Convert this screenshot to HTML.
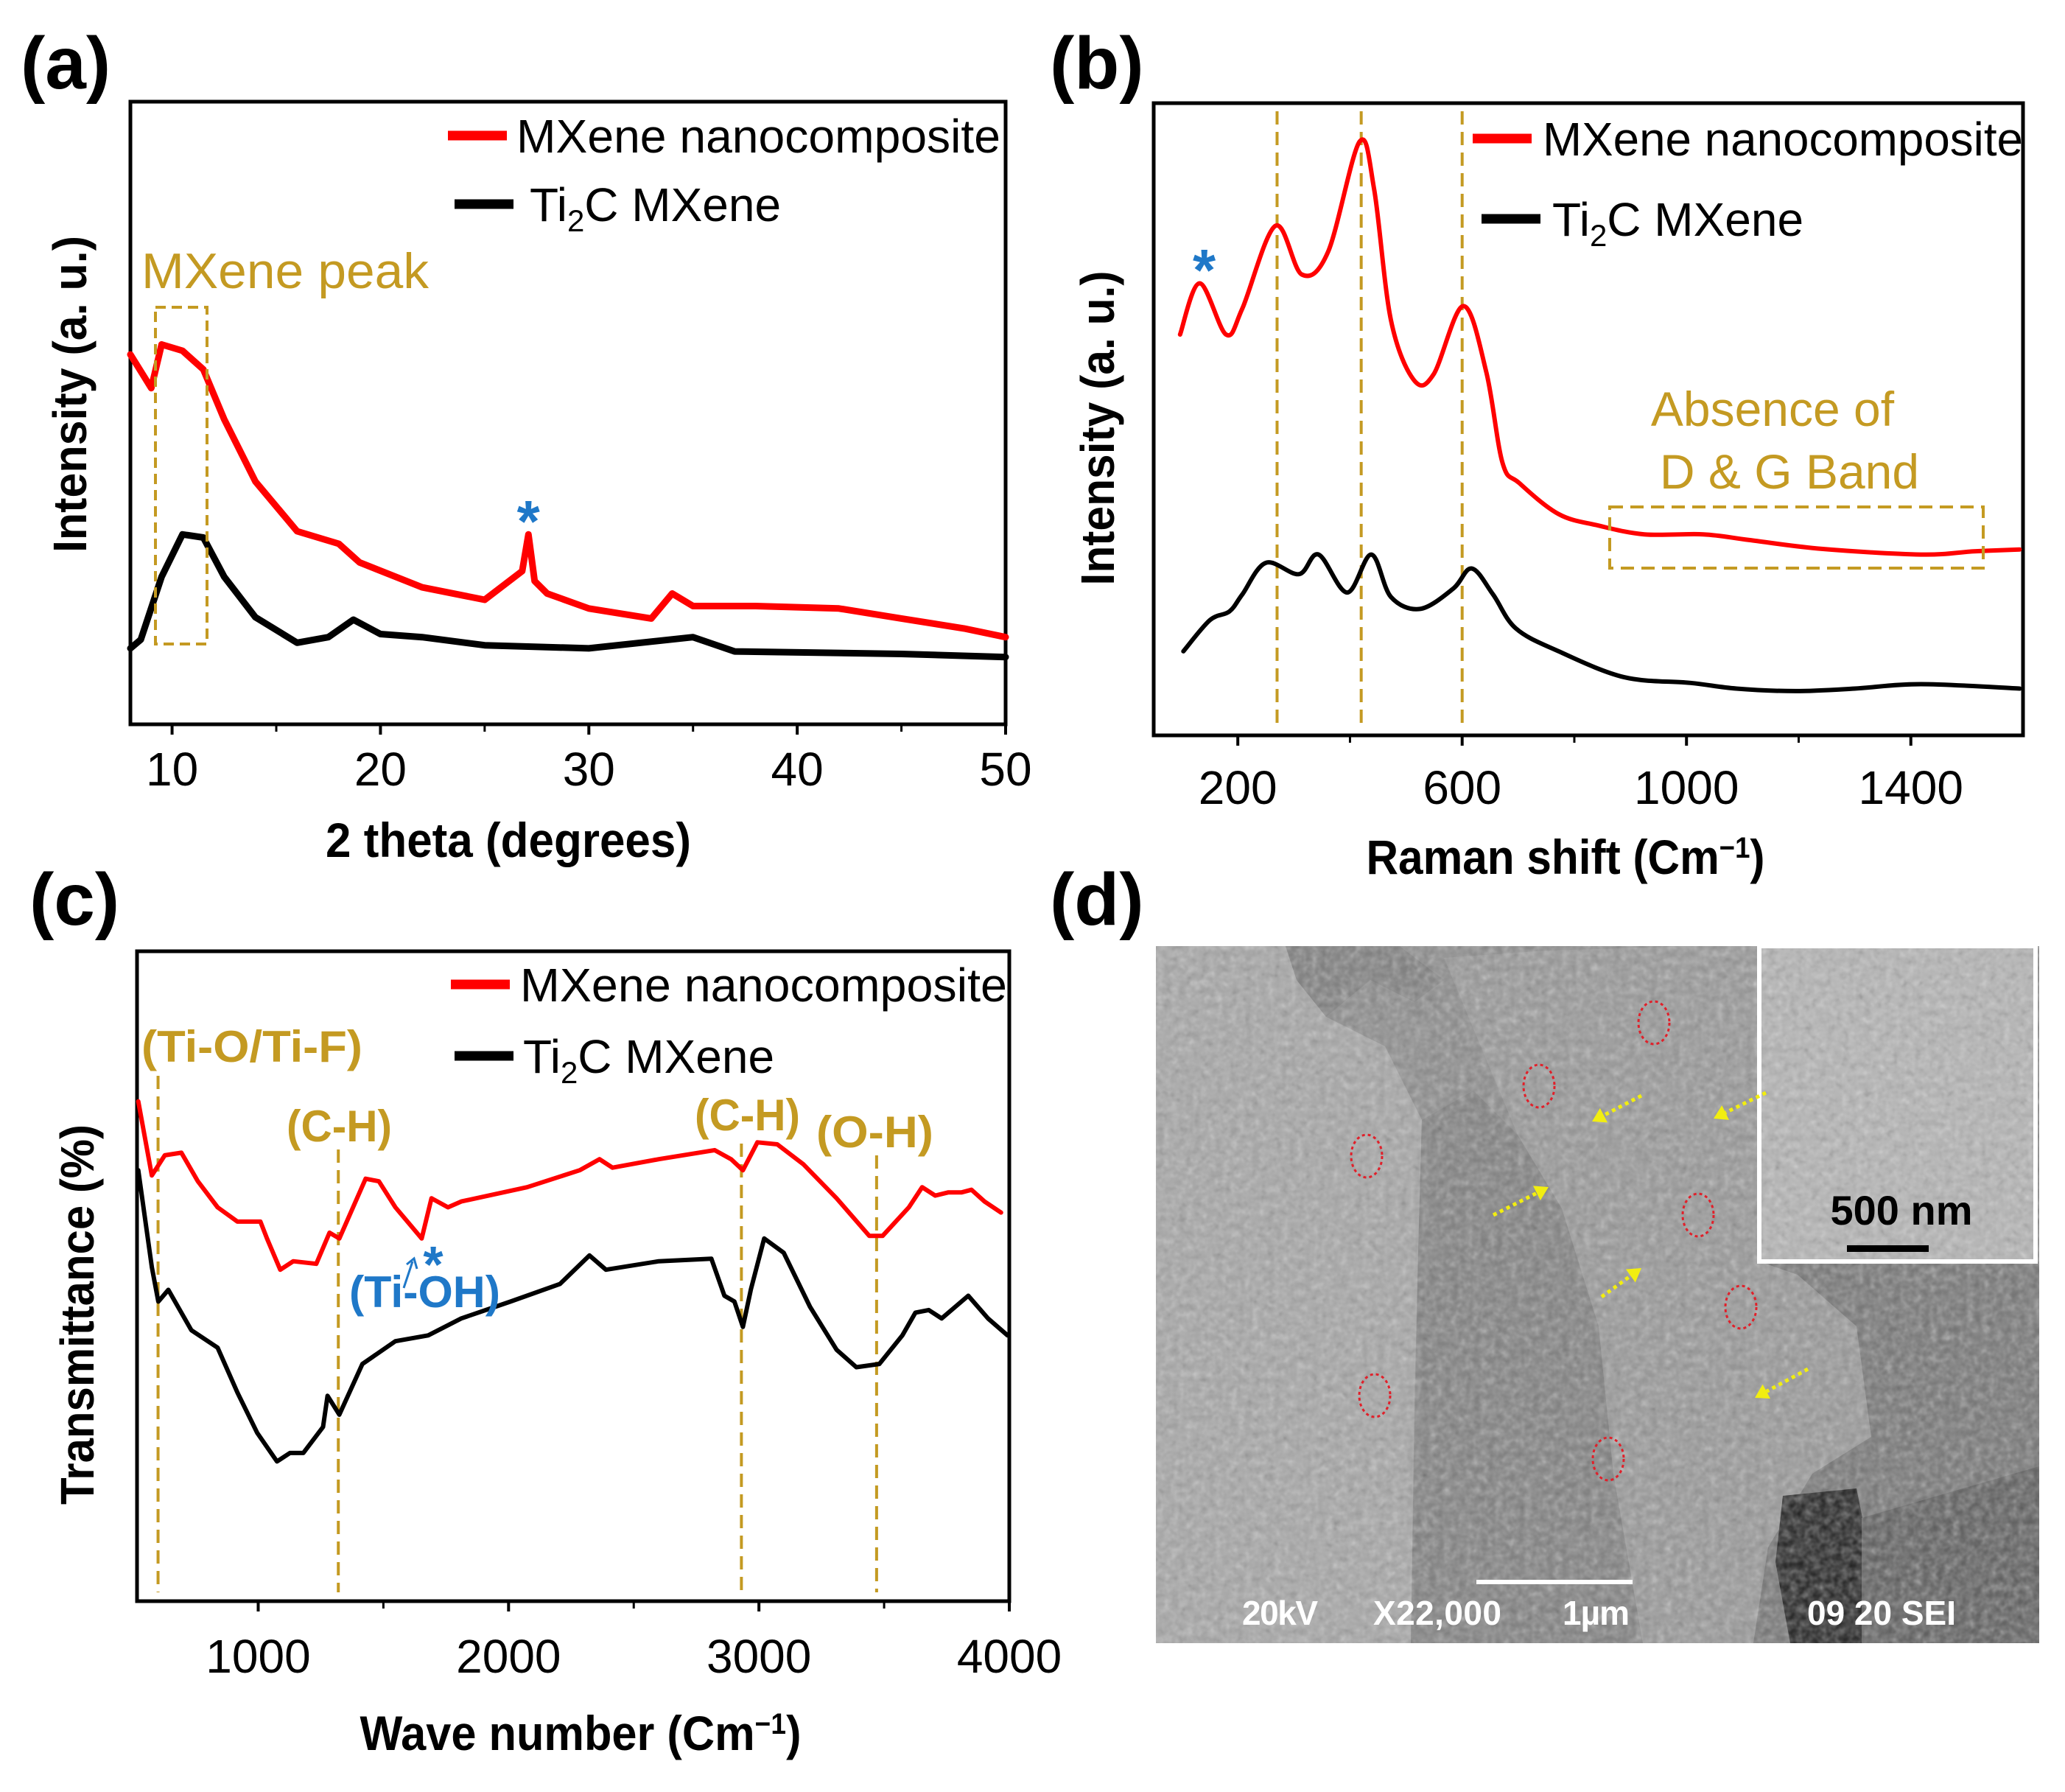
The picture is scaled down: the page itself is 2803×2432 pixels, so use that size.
<!DOCTYPE html>
<html><head><meta charset="utf-8"><style>
html,body{margin:0;padding:0;background:#fff}
svg{display:block}
text{font-family:"Liberation Sans",sans-serif}
</style></head><body>
<svg id="fig" width="2803" height="2432" viewBox="0 0 2803 2432" xmlns="http://www.w3.org/2000/svg">
<defs>
<filter id="grain" x="0" y="0" width="100%" height="100%">
<feTurbulence type="fractalNoise" baseFrequency="0.1" numOctaves="2" seed="3" result="n"/>
<feColorMatrix type="saturate" values="0" in="n" result="g"/>
<feComponentTransfer in="g"><feFuncA type="table" tableValues="0 0.6"/></feComponentTransfer>
</filter>
<clipPath id="semclip"><rect x="1569" y="1284" width="1199" height="946"/></clipPath>
</defs>
<g id="panels"></g>
<g id="sem" clip-path="url(#semclip)">
<rect x="1569" y="1284" width="1199" height="946" fill="#8a8a8a"/>
<path d="M1569 1284 L1745 1284 L1760 1330 L1800 1380 L1880 1420 L1930 1520 L1925 1700 L1920 1900 L1915 2230 L1569 2230Z" fill="#a6a6a6"/>
<path d="M1745 1284 L1900 1284 L1960 1330 L1920 1360 L1860 1330 L1800 1380 L1760 1330Z" fill="#7c7c7c"/>
<path d="M1930 1520 L2000 1480 L2060 1540 L2120 1640 L2170 1800 L2190 2000 L2230 2230 L1915 2230 L1925 1700Z" fill="#7e7e7e"/>
<path d="M1960 1300 L2100 1290 L2300 1284 L2388 1284 L2388 1712 L2440 1730 L2520 1800 L2540 1950 L2460 2000 L2400 2100 L2380 2230 L2230 2230 L2190 2000 L2170 1800 L2120 1640 L2060 1540 Z" fill="#979797"/>
<path d="M2388 1712 L2768 1712 L2768 2230 L2380 2230 L2400 2100 L2460 2000 L2540 1950 L2520 1800 L2440 1730Z" fill="#737373"/>
<path d="M2420 2030 L2520 2020 L2540 2120 L2527 2230 L2430 2230 L2410 2120Z" fill="#1a1a1a"/>
<path d="M2527 2060 L2768 1990 L2768 2230 L2527 2230Z" fill="#5a5a5a"/>
<rect x="1569" y="1284" width="1199" height="946" filter="url(#grain)" fill="#fff"/>
<rect x="2388" y="1284" width="375" height="428" fill="#b5b5b5" stroke="#fff" stroke-width="6"/>
<rect x="2391" y="1287" width="369" height="422" filter="url(#grain)" fill="#fff"/>
<text x="2581" y="1662" text-anchor="middle" font-weight="bold" font-size="56" fill="#000">500 nm</text>
<rect x="2507" y="1690" width="111" height="9" fill="#000"/>
<rect x="2004" y="2144" width="212" height="6" fill="#fff"/>
<g font-weight="bold" font-size="46" fill="#fff">
<text x="1686" y="2205" textLength="103">20kV</text>
<text x="1864" y="2205" textLength="174">X22,000</text>
<text x="2121" y="2205" textLength="91">1µm</text>
<text x="2453" y="2205" textLength="202">09 20 SEI</text>
</g>
<g id="semmarks"></g>
</g>
</svg>
<script>
// ---------- Panel (a) XRD ----------
const xrdX=[8,9,9.5,10.5,11.5,12.5,14,16,18,19,22,25,26.8,27.1,27.4,28,30,33,34,35,38,42,45,48,50];
const xrdRed=[59.4,54,61,60,57,49,39,31,29,26,22,20,24.6,30.5,23,21,18.6,17,21,19,19,18.6,17,15.4,14];
const xrdBlackX=[8,8.5,9.5,10.5,11.5,12.5,14,16,17.5,18.7,20,22,25,30,35,37,45,50];
const xrdBlack=[12.2,13.6,23.7,30.5,30,23.7,17.2,13.1,14,16.8,14.5,14,12.7,12.2,14,11.7,11.3,10.8];
const xrdTicks=[10,20,30,40,50];
const xrdMinor=[15,25,35,45];
// ---------- Panel (b) Raman ----------
const ramRedX=[97,132,179,208,267,314,361,417,443,473,514,549,602,643,672,702,772,842,925,1030,1112,1241,1418,1512,1594];
const ramRed=[63.4,71.5,63.4,67.5,80.6,72.9,76.5,93.9,86.4,65.7,56.2,57.1,67.9,57.5,43.1,39.9,35,33.2,31.8,31.8,30.9,29.5,28.6,29.1,29.4];
const ramBlackX=[103,150,185,208,250,309,344,395,438,473,525,584,617,655,696,772,889,1007,1089,1195,1300,1418,1594];
const ramBlack=[13.3,18.2,19.6,22.3,27.3,25.5,28.6,22.6,28.6,21.9,20,23.2,26.4,22.3,16.9,13.3,9.2,8.3,7.4,7,7.4,8.1,7.4];
const ramTicks=[200,600,1000,1400];
const ramMinor=[400,800,1200];
const ramPeaks=[270,420,600];
// ---------- Panel (c) FTIR ----------
const ftRedX=[521,575,627,693,759,838,917,1009,1035,1088,1140,1232,1285,1324,1429,1482,1548,1653,1692,1758,1811,2074,2284,2363,2415,2600,2823,2889,2936,2994,3073,3178,3310,3441,3494,3599,3652,3704,3757,3810,3849,3901,3967];
const ftRed=[76.9,65.5,68.6,69,64.6,60.6,58.4,58.4,55.8,51,52.3,51.9,56.7,55.8,65,64.6,60.6,55.8,62,60.6,61.5,63.7,66.3,68,66.7,68,69.4,68,66.3,70.6,70.3,67.2,62,56.2,56.2,60.6,63.7,62.4,62.9,62.9,63.3,61.5,59.8];
const ftBlackX=[521,575,601,641,733,838,917,996,1075,1127,1180,1259,1277,1324,1416,1548,1679,1811,2008,2205,2323,2389,2600,2810,2862,2902,2936,2968,3021,3099,3204,3310,3389,3481,3573,3625,3678,3730,3836,3915,3993];
const ftBlack=[66.3,51.4,46.1,47.9,41.7,39,32.1,25.9,21.5,22.8,22.8,26.8,31.6,28.7,36.5,40,40.9,43.5,46.1,48.8,53.2,51,52.3,52.7,47,46.1,42.2,48,55.8,53.6,45.3,38.7,36,36.5,40.9,44.4,44.8,43.5,47,43.5,40.9];
const ftTicks=[1000,2000,3000,4000];
const ftMinor=[1500,2500,3500];
const ftBands=[600,1320,2930,3470];

const NS="http://www.w3.org/2000/svg";
const root=document.getElementById('panels');
function el(tag,attrs,parent,txt){const e=document.createElementNS(NS,tag);for(const k in attrs)e.setAttribute(k,attrs[k]);if(txt!==undefined)e.textContent=txt;(parent||root).appendChild(e);return e;}
const GOLD="#c49a22", BLUE="#1f78c8";

function axes(p){
  const g=el('g',{});
  
  
  p.sx=v=>p.L+(v-p.x0)/(p.x1-p.x0)*(p.R-p.L);
  p.sy=v=>p.B-v/100*(p.B-p.T);
  const fr=el('rect',{x:p.L,y:p.T,width:p.R-p.L,height:p.B-p.T,fill:'none',stroke:'#000','stroke-width':5},g);
  
  
  p.ticks.forEach(t=>{
    const x=p.sx(t);
    const tk=el('line',{x1:x,x2:x,y1:p.B,y2:p.B+14,stroke:'#000','stroke-width':4},g);
    
    
    const tl=el('text',{x:x,y:p.tickY,'text-anchor':'middle','font-size':64,fill:'#000'},g,String(t));
    
    
  });
  p.minor.forEach(t=>{
    const x=p.sx(t);
    const tk=el('line',{x1:x,x2:x,y1:p.B,y2:p.B+10,stroke:'#000','stroke-width':3},g);
    
    
  });
  const xl=el('text',{x:p.xl[0],y:p.xl[1],'text-anchor':'middle','font-size':66,'font-weight':'bold',textLength:p.xl[2],lengthAdjust:'spacingAndGlyphs'},g,p.xlabel);
  
  
  if(p.sup){el('tspan',{'baseline-shift':'super','font-size':40},xl,'−1');el('tspan',{},xl,')');}
  const yl=el('text',{x:0,y:0,'text-anchor':'middle','font-size':64,'font-weight':'bold',textLength:p.yl[2],lengthAdjust:'spacingAndGlyphs',transform:`translate(${p.yl[0]},${p.yl[1]}) rotate(-90)`},g,p.ylabel);
  
  
  const pl=el('text',{x:p.lab[0],y:p.lab[1],'font-size':100,'font-weight':'bold'},g,p.letter);
  
  
  const lg=el('g',{},g);
  
  
  const l1=el('line',{x1:p.leg[0],x2:p.leg[0]+80,y1:p.leg[1],y2:p.leg[1],stroke:'#f00','stroke-width':13},lg);
  
  
  const t1=el('text',{x:p.leg[2],y:p.leg[1]+23,'font-size':64,textLength:p.leg[3],lengthAdjust:'spacingAndGlyphs'},lg,'MXene nanocomposite');
  
  
  const l2=el('line',{x1:p.leg[4],x2:p.leg[4]+80,y1:p.leg[5],y2:p.leg[5],stroke:'#000','stroke-width':13},lg);
  
  
  const t2=el('text',{x:p.leg[6],y:p.leg[5]+23,'font-size':64},lg,'Ti');
  
  
  el('tspan',{dy:14,'font-size':42},t2,'2');
  el('tspan',{dy:-14},t2,'C MXene');
  return g;
}
function series(p,g,xs,ys,color,w,name,smooth){
  const P=xs.map((x,i)=>[p.sx(x),p.sy(ys[i])]);
  let d='M'+P[0][0].toFixed(1)+' '+P[0][1].toFixed(1);
  for(let i=1;i<P.length;i++){
    if(smooth){
      const p0=P[Math.max(0,i-2)],p1=P[i-1],p2=P[i],p3=P[Math.min(P.length-1,i+1)];
      const c1=[p1[0]+(p2[0]-p0[0])/6,p1[1]+(p2[1]-p0[1])/6],c2=[p2[0]-(p3[0]-p1[0])/6,p2[1]-(p3[1]-p1[1])/6];
      d+=` C${c1[0].toFixed(1)} ${c1[1].toFixed(1)} ${c2[0].toFixed(1)} ${c2[1].toFixed(1)} ${p2[0].toFixed(1)} ${p2[1].toFixed(1)}`;
    } else d+=' L'+P[i][0].toFixed(1)+' '+P[i][1].toFixed(1);
  }
  const path=el('path',{d:d,fill:'none',stroke:color,'stroke-width':w,'stroke-linejoin':'round','stroke-linecap':'round'},g);
  
  
}
function vdash(p,g,x,y1,name){
  const ln=el('line',{x1:p.sx(x),x2:p.sx(x),y1:y1,y2:p.B-12,stroke:GOLD,'stroke-width':4,'stroke-dasharray':'18 10'},g);
  
  
}

// Panel a
const pa={name:'xrd-panel',L:177,R:1365,T:138,B:983,x0:8,x1:50,ticks:xrdTicks,minor:xrdMinor,tickY:1066,xl:[690,1163,496],xlabel:'2 theta (degrees)',yl:[117,535,430],ylabel:'Intensity (a. u.)',lab:[28,120],letter:'(a)',leg:[608,184,701,657,617,277,719]};
const ga=axes(pa);
series(pa,ga,xrdX,xrdRed,'#f00',9,'xrd-nanocomposite-line');
series(pa,ga,xrdBlackX,xrdBlack,'#000',9,'xrd-ti2c-line');
{const b=el('rect',{x:211,y:417,width:70,height:457,fill:'none',stroke:GOLD,'stroke-width':4,'stroke-dasharray':'14 8'},ga);


const t=el('text',{x:192,y:391,'font-size':68,fill:GOLD,textLength:390,lengthAdjust:'spacingAndGlyphs'},ga,'MXene peak');


const s=el('text',{x:pa.sx(27.1),y:735,'text-anchor':'middle','font-size':80,'font-weight':'bold',fill:BLUE},ga,'*');

}

// Panel b
const pb={name:'raman-panel',L:1566,R:2746,T:140,B:998,x0:50,x1:1600,ticks:ramTicks,minor:ramMinor,tickY:1091,xl:[2125,1186,541],xlabel:'Raman shift (Cm',sup:true,yl:[1512,581,427],ylabel:'Intensity (a. u.)',lab:[1425,120],letter:'(b)',leg:[1999,188,2094,652,2011,297,2107]};
const gb=axes(pb);
ramPeaks.forEach(x=>vdash(pb,gb,x,151,'raman-peak-line'));
series(pb,gb,ramRedX,ramRed,'#f00',6,'raman-nanocomposite-line',true);
series(pb,gb,ramBlackX,ramBlack,'#000',6,'raman-ti2c-line',true);
{const b=el('rect',{x:2185,y:688,width:507,height:83,fill:'none',stroke:GOLD,'stroke-width':4,'stroke-dasharray':'18 10'},gb);


const t=el('text',{x:2406,y:578,'text-anchor':'middle','font-size':66,fill:GOLD},gb,'Absence of');


const t2=el('text',{x:2429,y:663,'text-anchor':'middle','font-size':66,fill:GOLD},gb,'D & G Band');


const s=el('text',{x:pb.sx(140),y:394,'text-anchor':'middle','font-size':80,'font-weight':'bold',fill:BLUE},gb,'*');

}

// Panel c
const pc={name:'ftir-panel',L:186,R:1370,T:1291,B:2173,x0:516,x1:4000,ticks:ftTicks,minor:ftMinor,tickY:2270,xl:[788,2375,599],xlabel:'Wave number (Cm',sup:true,yl:[127,1784,516],ylabel:'Transmittance (%)',lab:[40,1255],letter:'(c)',leg:[612,1336,706,661,617,1433,710]};
const gc=axes(pc);
const bandTops=[1460,1560,1552,1568];
ftBands.forEach((x,i)=>vdash(pc,gc,x,bandTops[i],'ftir-band-line'));
series(pc,gc,ftRedX,ftRed,'#f00',6,'ftir-nanocomposite-line');
series(pc,gc,ftBlackX,ftBlack,'#000',6,'ftir-ti2c-line');
[['(Ti-O/Ti-F)',192,1441,300,'ti-o-ti-f-label'],['(C-H)',389,1549,143,'c-h-label-1'],['(C-H)',943,1534,143,'c-h-label-2'],['(O-H)',1108,1557,159,'o-h-label']].forEach(a=>{
  const t=el('text',{x:a[1],y:a[2],'font-size':60,'font-weight':'bold',fill:GOLD,textLength:a[3],lengthAdjust:'spacingAndGlyphs'},gc,a[0]);
  
  
});
{const t=el('text',{x:474,y:1774,'font-size':60,'font-weight':'bold',fill:BLUE,textLength:205,lengthAdjust:'spacingAndGlyphs'},gc,'(Ti-OH)');


const s=el('text',{x:588,y:1740,'text-anchor':'middle','font-size':70,'font-weight':'bold',fill:BLUE},gc,'*');


const ar=el('path',{d:'M548 1748 L560 1712 M552 1716 L562 1708 L566 1722',stroke:BLUE,'stroke-width':3,fill:'none'},gc);

}

// Panel d label
{const pl=el('text',{x:1425,y:1255,'font-size':100,'font-weight':'bold'},root,'(d)');

}

// SEM marks
const sm=document.getElementById('semmarks');
const circles=[[2245,1388],[2089,1474],[1855,1569],[2305,1649],[2363,1774],[1866,1894],[2183,1980]];
circles.forEach(c=>{
  const e=el('ellipse',{cx:c[0],cy:c[1],rx:21,ry:29,fill:'none',stroke:'#e0202a','stroke-width':3,'stroke-dasharray':'4 4'},sm);
  
  
});
const arrows=[[2228,1487,2161,1522],[2397,1483,2326,1518],[2027,1649,2102,1611],[2174,1760,2228,1721],[2454,1858,2382,1897]];
arrows.forEach(a=>{
  const dx=a[2]-a[0],dy=a[3]-a[1],L=Math.hypot(dx,dy),ux=dx/L,uy=dy/L;
  const bx=a[2]-ux*18,by=a[3]-uy*18;
  const ln=el('line',{x1:a[0],y1:a[1],x2:bx,y2:by,stroke:'#f2ee10','stroke-width':5,'stroke-dasharray':'5 5'},sm);
  
  
  const hd=el('polygon',{points:`${a[2]},${a[3]} ${bx-uy*11},${by+ux*11} ${bx+uy*11},${by-ux*11}`,fill:'#f2ee10'},sm);
  
  
});
</script>
</body></html>
